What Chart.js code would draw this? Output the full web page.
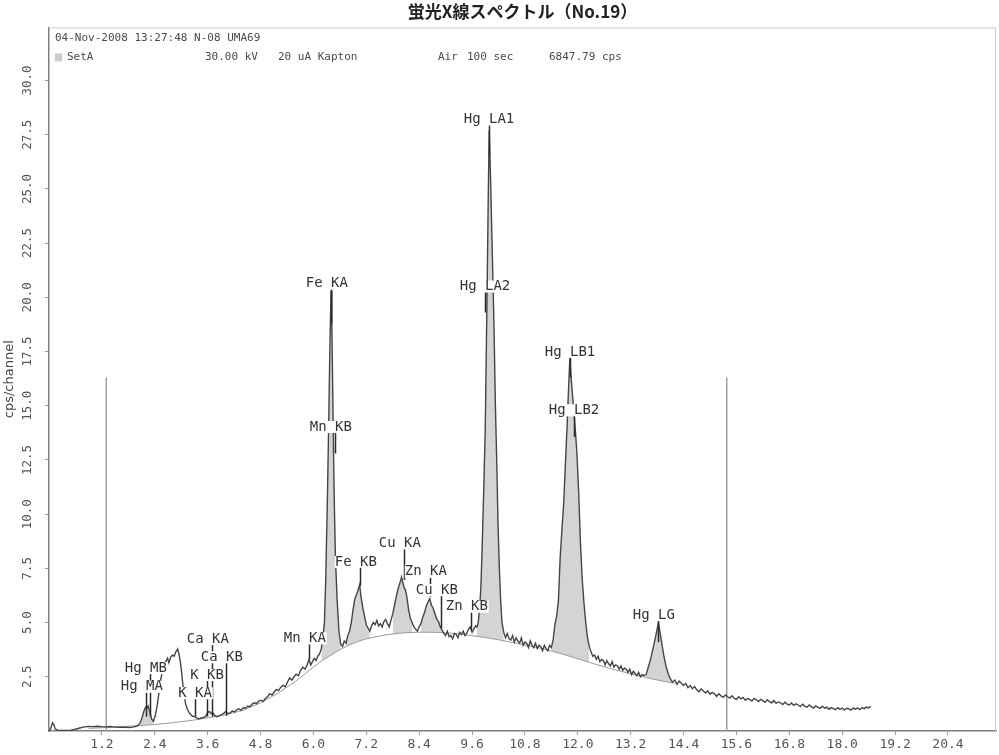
<!DOCTYPE html>
<html>
<head>
<meta charset="utf-8">
<script src="https://cdn.jsdelivr.net/npm/chart.js@4.4.1/dist/chart.umd.min.js"></script>
<style>
  html, body { margin: 0; padding: 0; background: #fff; }
  canvas { display: block; }
</style>
</head>
<body>
<canvas id="c" width="999" height="755"></canvas>
<script>
// ---- spectrum: energy (keV) and intensity (cps/channel) ----
const specKeV = [
  0.00, 0.04, 0.08, 0.11, 0.14, 0.20, 0.30, 0.40, 0.50, 0.60,
  0.70, 0.80, 0.90, 1.00, 1.10, 1.20, 1.30, 1.40, 1.50, 1.60,
  1.70, 1.80, 1.90, 2.00, 2.06, 2.11, 2.15, 2.19, 2.22, 2.25,
  2.29, 2.33, 2.37, 2.41, 2.45, 2.49, 2.53, 2.57, 2.61, 2.65,
  2.69, 2.72, 2.76, 2.80, 2.84, 2.88, 2.92, 2.95, 2.98, 3.01,
  3.04, 3.07, 3.10, 3.14, 3.18, 3.22, 3.26, 3.30, 3.35, 3.40,
  3.45, 3.50, 3.55, 3.60, 3.64, 3.68, 3.72, 3.76, 3.81, 3.86,
  3.92, 3.97, 4.01, 4.06, 4.11, 4.16, 4.21, 4.26, 4.31, 4.36,
  4.41, 4.46, 4.51, 4.56, 4.61, 4.66, 4.71, 4.76, 4.81, 4.86,
  4.91, 4.96, 5.01, 5.06, 5.11, 5.16, 5.21, 5.26, 5.31, 5.36,
  5.41, 5.46, 5.51, 5.56, 5.61, 5.66, 5.71, 5.76, 5.81, 5.86,
  5.90, 5.94, 5.98, 6.02, 6.06, 6.10, 6.14, 6.18, 6.22, 6.25,
  6.28, 6.32, 6.35, 6.37, 6.40, 6.42, 6.44, 6.47, 6.50, 6.54,
  6.58, 6.62, 6.66, 6.70, 6.74, 6.78, 6.82, 6.86, 6.90, 6.94,
  6.98, 7.02, 7.05, 7.08, 7.12, 7.16, 7.20, 7.24, 7.28, 7.32,
  7.36, 7.40, 7.44, 7.48, 7.52, 7.56, 7.60, 7.64, 7.68, 7.72,
  7.76, 7.80, 7.84, 7.88, 7.92, 7.96, 8.00, 8.03, 8.06, 8.09,
  8.12, 8.16, 8.20, 8.24, 8.28, 8.32, 8.36, 8.40, 8.44, 8.48,
  8.52, 8.56, 8.60, 8.64, 8.68, 8.72, 8.76, 8.80, 8.84, 8.88,
  8.92, 8.96, 9.00, 9.04, 9.08, 9.12, 9.16, 9.20, 9.24, 9.28,
  9.32, 9.36, 9.40, 9.44, 9.48, 9.52, 9.56, 9.60, 9.64, 9.68,
  9.71, 9.74, 9.77, 9.80, 9.83, 9.87, 9.90, 9.94, 9.97, 9.99,
  10.02, 10.06, 10.10, 10.13, 10.16, 10.19, 10.22, 10.25, 10.28, 10.32,
  10.36, 10.40, 10.44, 10.48, 10.52, 10.56, 10.60, 10.64, 10.68, 10.72,
  10.76, 10.80, 10.84, 10.88, 10.92, 10.96, 11.00, 11.04, 11.08, 11.12,
  11.16, 11.20, 11.24, 11.28, 11.32, 11.36, 11.40, 11.44, 11.48, 11.52,
  11.56, 11.60, 11.64, 11.68, 11.72, 11.76, 11.79, 11.82, 11.84, 11.86,
  11.90, 11.94, 11.98, 12.02, 12.06, 12.10, 12.14, 12.18, 12.22, 12.26,
  12.30, 12.34, 12.38, 12.42, 12.46, 12.50, 12.54, 12.58, 12.62, 12.66,
  12.70, 12.74, 12.78, 12.82, 12.86, 12.90, 12.94, 12.98, 13.02, 13.06,
  13.10, 13.14, 13.18, 13.22, 13.26, 13.30, 13.34, 13.38, 13.42, 13.46,
  13.50, 13.55, 13.60, 13.65, 13.70, 13.75, 13.79, 13.83, 13.87, 13.91,
  13.95, 14.00, 14.05, 14.10, 14.15, 14.20, 14.25, 14.30, 14.35, 14.40,
  14.45, 14.50, 14.55, 14.60, 14.65, 14.70, 14.75, 14.80, 14.85, 14.90,
  14.95, 15.00, 15.05, 15.10, 15.15, 15.20, 15.25, 15.30, 15.35, 15.40,
  15.45, 15.50, 15.55, 15.60, 15.65, 15.70, 15.75, 15.80, 15.85, 15.90,
  15.95, 16.00, 16.05, 16.10, 16.15, 16.20, 16.25, 16.30, 16.35, 16.40,
  16.45, 16.50, 16.55, 16.60, 16.65, 16.70, 16.75, 16.80, 16.85, 16.90,
  16.95, 17.00, 17.05, 17.10, 17.15, 17.20, 17.25, 17.30, 17.35, 17.40,
  17.45, 17.50, 17.55, 17.60, 17.65, 17.70, 17.75, 17.80, 17.85, 17.90,
  17.95, 18.00, 18.05, 18.10, 18.15, 18.20, 18.25, 18.30, 18.35, 18.40,
  18.45, 18.50, 18.55, 18.60, 18.65
];
const specCps = [
  0.00, 0.12, 0.38, 0.30, 0.10, 0.03, 0.02, 0.03, 0.04, 0.08,
  0.14, 0.19, 0.21, 0.20, 0.22, 0.20, 0.19, 0.21, 0.18, 0.17,
  0.18, 0.16, 0.18, 0.22, 0.35, 0.60, 0.90, 1.10, 1.05, 1.15,
  0.85, 0.55, 0.45, 0.70, 1.10, 1.70, 2.30, 2.75, 3.05, 3.20,
  3.35, 3.15, 3.40, 3.50, 3.45, 3.65, 3.78, 3.55, 3.20, 2.70,
  2.10, 1.60, 1.25, 1.00, 0.85, 0.75, 0.68, 0.66, 0.60, 0.56,
  0.60, 0.62, 0.66, 0.85, 0.90, 0.80, 0.84, 0.72, 0.66, 0.70,
  0.76, 0.82, 0.90, 0.80, 0.84, 0.92, 0.88, 0.98, 1.02, 0.96,
  1.08, 1.05, 1.15, 1.12, 1.24, 1.30, 1.26, 1.38, 1.42, 1.36,
  1.50, 1.58, 1.72, 1.66, 1.80, 1.92, 1.86, 2.02, 2.10, 2.04,
  2.25, 2.45, 2.35, 2.50, 2.62, 2.55, 2.80, 2.95, 2.85, 3.05,
  3.30, 3.05, 3.20, 3.35, 3.25, 3.45, 3.55, 3.80, 4.40, 5.00,
  7.00, 11.00, 14.50, 17.20, 20.30, 18.50, 15.50, 11.00, 8.00, 6.00,
  4.60, 4.00, 3.90, 4.15, 4.05, 4.40, 4.60, 5.00, 5.60, 6.10,
  6.30, 6.55, 6.75, 6.20, 5.70, 5.30, 4.90, 4.75, 4.60, 4.85,
  5.00, 4.90, 5.10, 4.85, 4.95, 4.80, 5.05, 5.15, 4.95, 4.80,
  5.10, 5.40, 5.80, 6.20, 6.55, 6.80, 7.10, 6.85, 6.60, 6.50,
  6.20, 5.60, 5.20, 5.00, 4.80, 4.70, 4.60, 4.80, 4.95, 5.25,
  5.45, 5.75, 5.95, 6.10, 5.80, 5.65, 5.40, 5.15, 5.05, 4.80,
  4.65, 4.50, 4.40, 4.60, 4.35, 4.40, 4.25, 4.50, 4.45, 4.30,
  4.55, 4.45, 4.60, 4.40, 4.50, 4.70, 4.80, 4.55, 4.70, 4.85,
  4.80, 5.00, 5.60, 6.60, 8.50, 11.50, 14.00, 20.00, 25.00, 27.70,
  25.50, 22.00, 18.50, 15.00, 12.50, 9.50, 7.50, 6.00, 5.00, 4.55,
  4.30, 4.50, 4.25, 4.20, 4.40, 4.10, 4.30, 4.15, 4.05, 4.30,
  3.95, 4.10, 4.05, 3.85, 4.15, 3.95, 3.85, 4.05, 3.80, 3.95,
  3.90, 3.70, 3.95, 3.80, 3.70, 3.95, 3.85, 4.20, 4.90, 5.30,
  6.00, 8.00, 9.30, 10.50, 12.40, 14.20, 15.80, 17.20, 16.50, 16.00,
  15.00, 14.00, 12.80, 11.00, 8.70, 7.00, 5.90, 5.00, 4.30, 3.90,
  3.65, 3.45, 3.50, 3.30, 3.45, 3.20, 3.30, 3.25, 3.05, 3.25,
  3.10, 3.00, 3.20, 2.95, 3.05, 3.00, 2.85, 3.00, 2.80, 2.90,
  2.85, 2.70, 2.85, 2.60, 2.75, 2.65, 2.55, 2.70, 2.50, 2.60,
  2.55, 2.60, 2.95, 3.30, 3.75, 4.20, 4.60, 5.00, 4.50, 4.00,
  3.50, 3.00, 2.65, 2.40, 2.25, 2.35, 2.15, 2.30, 2.20, 2.10,
  2.20, 2.00, 2.10, 1.95, 2.05, 1.90, 1.80, 1.95, 1.85, 1.75,
  1.85, 1.70, 1.78, 1.72, 1.60, 1.72, 1.62, 1.55, 1.66, 1.58,
  1.52, 1.62, 1.50, 1.46, 1.58, 1.48, 1.55, 1.42, 1.50, 1.46,
  1.38, 1.50, 1.44, 1.36, 1.46, 1.40, 1.32, 1.44, 1.35, 1.30,
  1.40, 1.28, 1.34, 1.30, 1.22, 1.33, 1.24, 1.20, 1.29, 1.18,
  1.25, 1.20, 1.13, 1.24, 1.15, 1.10, 1.20, 1.12, 1.06, 1.16,
  1.09, 1.04, 1.14, 1.05, 1.10, 1.00, 1.08, 1.03, 0.98, 1.08,
  1.00, 1.06, 0.97, 1.05, 1.02, 0.96, 1.07, 1.01, 1.06, 0.99,
  1.08, 1.03, 1.10, 1.06, 1.14
];

// ---- continuum (background) curve ----
const bgKeV = [0.9, 1.2, 1.6, 2.0, 2.4, 2.8, 3.2, 3.6, 4.0, 4.4, 4.8, 5.2, 5.6, 6.0, 6.2, 6.4, 6.6, 6.8,
               7.0, 7.2, 7.6, 8.0, 8.4, 8.8, 9.2, 9.6, 10.0, 10.4, 10.8, 11.2, 11.6, 12.0, 12.4, 12.8,
               13.2, 13.6, 14.0, 14.2];
const bgCps = [0.12, 0.15, 0.20, 0.24, 0.30, 0.38, 0.48, 0.60, 0.75, 0.95, 1.30, 1.75, 2.30, 2.95, 3.25, 3.50, 3.75, 3.95,
               4.12, 4.25, 4.42, 4.52, 4.56, 4.55, 4.50, 4.40, 4.28, 4.13, 3.97, 3.80, 3.58, 3.33, 3.08, 2.85,
               2.64, 2.44, 2.27, 2.20];

// ---- integrated peak regions (keV) ----
const roiStart = [2.05, 6.17, 6.74, 7.80, 8.44, 9.70, 11.40, 13.52];
const roiEnd   = [2.37, 6.62, 7.28, 8.26, 8.96, 10.34, 12.26, 14.16];

// ---- region-of-interest cursor lines ----
const cursorKeV = [1.30, 15.38];
const cursorTopCps = 16.3;

// ---- line identification markers ----
const markerElem = ['Hg', 'Hg', 'K', 'K', 'Ca', 'Ca', 'Mn', 'Fe', 'Mn', 'Fe', 'Cu', 'Zn', 'Cu', 'Zn', 'Hg', 'Hg', 'Hg', 'Hg', 'Hg'];
const markerLine = ['MA', 'MB', 'KA', 'KB', 'KA', 'KB', 'KA', 'KA', 'KB', 'KB', 'KA', 'KA', 'KB', 'KB', 'LA1', 'LA2', 'LB1', 'LB2', 'LG'];
const markerKeV  = [2.195, 2.282, 3.314, 3.590, 3.692, 4.013, 5.899, 6.404, 6.490, 7.058, 8.048, 8.639, 8.905, 9.572, 9.989, 9.898, 11.823, 11.924, 13.830];
const markerLabelCps = [2.04, 2.90, 1.74, 2.58, 4.24, 3.40, 4.27, 20.63, 14.02, 7.80, 8.65, 7.34, 6.50, 5.73, 28.20, 20.50, 17.48, 14.79, 5.35];
const markerLowCps   = [0.66, 0.66, 0.66, 0.66, 0.66, 0.70, 3.30, 18.80, 12.80, 6.70, 6.96, 6.20, 4.75, 4.65, 26.50, 19.30, 16.30, 13.56, 4.10];

// ---- axes ----
const xTicks = [1.2, 2.4, 3.6, 4.8, 6.0, 7.2, 8.4, 9.6, 10.8, 12.0, 13.2, 14.4, 15.6, 16.8, 18.0, 19.2, 20.4];
const xTickLabels = ['1.2', '2.4', '3.6', '4.8', '6.0', '7.2', '8.4', '9.6', '10.8', '12.0', '13.2', '14.4', '15.6', '16.8', '18.0', '19.2', '20.4'];
const yTicks = [2.5, 5.0, 7.5, 10.0, 12.5, 15.0, 17.5, 20.0, 22.5, 25.0, 27.5, 30.0];
const yTickLabels = ['2.5', '5.0', '7.5', '10.0', '12.5', '15.0', '17.5', '20.0', '22.5', '25.0', '27.5', '30.0'];

// ---- acquisition header ----
const headerTitle = '04-Nov-2008 13:27:48 N-08 UMA69';
const headerFields = ['SetA', '30.00 kV', '20 uA Kapton', 'Air', '100 sec', '6847.79 cps'];

const MONO = '"DejaVu Sans Mono", "Liberation Mono", monospace';

const spectrum = specKeV.map((k, i) => ({ x: k, y: specCps[i] }));
const continuum = bgKeV.map((k, i) => ({ x: k, y: bgCps[i] }));
const peakAreas = [];
roiStart.forEach((a, r) => {
  specKeV.forEach((k, i) => { if (k >= a && k <= roiEnd[r]) peakAreas.push({ x: k, y: specCps[i] }); });
  peakAreas.push({ x: roiEnd[r] + 0.001, y: null });
});
const cursorSets = cursorKeV.map(k => ({
  data: [{ x: k, y: 0 }, { x: k, y: cursorTopCps }],
  borderColor: '#a0a0a0', borderWidth: 1.5, pointRadius: 0, fill: false, order: 2
}));

const decor = {
  id: 'decor',
  beforeDatasetsDraw(chart) {
    const { ctx, chartArea: a } = chart;
    ctx.save();
    ctx.strokeStyle = '#cfcfcf';
    ctx.lineWidth = 1;
    ctx.beginPath();
    ctx.moveTo(a.left, a.top + 0.5); ctx.lineTo(a.right, a.top + 0.5);
    ctx.moveTo(a.right - 0.5, a.top); ctx.lineTo(a.right - 0.5, a.bottom);
    ctx.stroke();
    ctx.restore();
  },
  afterDatasetsDraw(chart) {
    const { ctx } = chart;
    const xs = chart.scales.x, ys = chart.scales.y;
    ctx.save();
    // marker sticks
    ctx.strokeStyle = '#2b2b2b';
    ctx.lineWidth = 1.5;
    markerKeV.forEach((k, i) => {
      const px = Math.round(xs.getPixelForValue(k)) + 0.5;
      ctx.beginPath();
      ctx.moveTo(px, ys.getPixelForValue(markerLabelCps[i]));
      ctx.lineTo(px, ys.getPixelForValue(markerLowCps[i]));
      ctx.stroke();
    });
    // marker labels on white patches
    ctx.font = '14px ' + MONO;
    ctx.textBaseline = 'middle';
    markerKeV.forEach((k, i) => {
      const px = Math.round(xs.getPixelForValue(k));
      const py = ys.getPixelForValue(markerLabelCps[i]);
      const left = markerElem[i] + ' ';
      const wl = ctx.measureText(left).width;
      const wr = ctx.measureText(markerLine[i]).width;
      ctx.fillStyle = '#ffffff';
      ctx.fillRect(px - wl, py - 6, wl + wr + 1, 12);
      ctx.fillStyle = '#333333';
      ctx.textAlign = 'right';
      ctx.fillText(left, px, py);
      ctx.textAlign = 'left';
      ctx.fillText(markerLine[i], px, py);
    });
    ctx.restore();
  },
  afterDraw(chart) {
    const { ctx, chartArea: a } = chart;
    const ys = chart.scales.y;
    ctx.save();
    // rotated y tick labels
    ctx.font = '12.5px ' + MONO;
    ctx.fillStyle = '#555555';
    ctx.textAlign = 'center';
    ctx.textBaseline = 'middle';
    yTicks.forEach((v, i) => {
      ctx.save();
      ctx.translate(ys.right - 21, ys.getPixelForValue(v));
      ctx.rotate(-Math.PI / 2);
      ctx.fillText(yTickLabels[i], 0, 0);
      ctx.restore();
    });
    // acquisition header inside the plot frame
    ctx.font = '11px ' + MONO;
    ctx.fillStyle = '#4a4a4a';
    ctx.textAlign = 'left';
    ctx.fillText(headerTitle, a.left + 6, a.top + 11);
    ctx.fillStyle = '#cccccc';
    ctx.fillRect(a.left + 6, a.top + 26, 7, 8);
    ctx.fillStyle = '#4a4a4a';
    const fieldX = [18, 156, 229, 389, 418, 500];
    headerFields.forEach((t, i) => ctx.fillText(t, a.left + fieldX[i], a.top + 30));
    ctx.restore();
  }
};

new Chart(document.getElementById('c'), {
  type: 'line',
  data: {
    datasets: [
      { data: spectrum, borderColor: '#454545', borderWidth: 1.4, pointRadius: 0, fill: false, order: 0 },
      { data: continuum, borderColor: '#9a9a9a', borderWidth: 1, pointRadius: 0, fill: false, order: 1 },
      { data: peakAreas, borderWidth: 0, borderColor: 'rgba(0,0,0,0)', backgroundColor: '#d4d4d4',
        pointRadius: 0, fill: 1, spanGaps: false, order: 3 },
      ...cursorSets
    ]
  },
  options: {
    responsive: false,
    animation: false,
    devicePixelRatio: 1,
    events: [],
    elements: { line: { tension: 0 } },
    layout: { padding: { left: 0, right: 3, top: 0, bottom: 0 } },
    plugins: {
      legend: { display: false },
      tooltip: { enabled: false },
      title: {
        display: true,
        fullSize: false,
        text: '蛍光X線スペクトル（No.19）',
        color: '#222222',
        font: { family: '"Noto Sans CJK JP"', size: 17, weight: 'bold', lineHeight: 1.2 },
        padding: { top: 1, bottom: 6 }
      }
    },
    scales: {
      x: {
        type: 'linear',
        min: 0,
        max: 21.49,
        afterBuildTicks: s => { s.ticks = xTicks.map(v => ({ value: v })); },
        afterFit: s => { s.height = 24; },
        ticks: {
          autoSkip: false, maxRotation: 0, minRotation: 0, padding: 2,
          color: '#555555', font: { family: MONO, size: 13 },
          callback: v => xTickLabels[xTicks.indexOf(v)]
        },
        grid: { drawOnChartArea: false, drawTicks: true, tickLength: 4, color: '#999999' },
        border: { display: true, color: '#808080', width: 1.5 }
      },
      y: {
        type: 'linear',
        min: 0,
        max: 32.45,
        afterBuildTicks: s => { s.ticks = yTicks.map(v => ({ value: v })); },
        afterFit: s => { s.width = 49; },
        ticks: { display: false },
        grid: { drawOnChartArea: false, drawTicks: true, tickLength: 4, color: '#999999' },
        border: { display: true, color: '#808080', width: 1.5 },
        title: {
          display: true,
          text: 'cps/channel',
          color: '#444444',
          font: { family: '"DejaVu Sans"', size: 13, lineHeight: 1.2 },
          padding: { top: 2, bottom: 0 }
        }
      }
    }
  },
  plugins: [decor]
});
</script>
</body>
</html>
